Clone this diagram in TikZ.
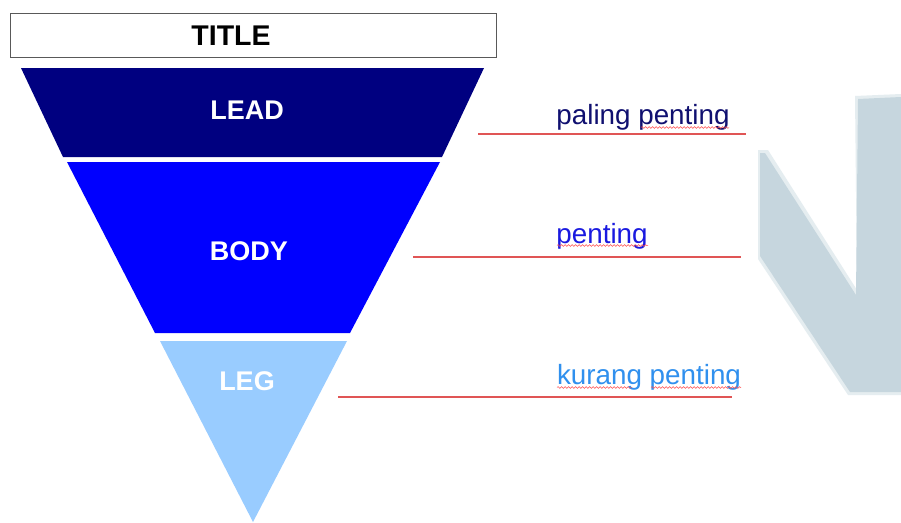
\documentclass[tikz,border=0pt]{standalone}
\usepackage{fontspec}
\setmainfont{Liberation Sans}
\usetikzlibrary{decorations.pathmorphing}
\definecolor{leadc}{HTML}{000080}
\definecolor{bodyc}{HTML}{0000FF}
\definecolor{legc}{HTML}{99CCFF}
\definecolor{redline}{HTML}{E05555}
\definecolor{markc}{HTML}{C6D6DE}
\definecolor{lbl1}{HTML}{101070}
\definecolor{lbl2}{HTML}{1A1AE0}
\definecolor{lbl3}{HTML}{3090EE}
\tikzset{
  tier/.style={font=\bfseries\fontsize{27}{30}\selectfont, text=white},
  side/.style={font=\fontsize{27.8}{31}\selectfont, anchor=base},
  rule/.style={draw=redline, line width=1.3pt},
  squiggle/.style={draw=red!70, line width=0.5pt,
    decorate, decoration={snake, amplitude=0.9pt, segment length=3.5pt}}
}
\begin{document}
\begin{tikzpicture}[x=1pt,y=-1pt]
\useasboundingbox (0,0) rectangle (901,522);
\fill[white] (0,0) rectangle (901,522);

% faint background mark with a soft rim
\fill[markc!45] (758,150) -- (768,150) -- (857,290) -- (855,96) -- (901,94)
  -- (901,395) -- (848,395) -- (758,259) -- cycle;
\fill[markc] (760,153) -- (765,153) -- (856,295) -- (858,99) -- (901,97)
  -- (901,392) -- (850,392) -- (760,256) -- cycle;

% title bar
\draw[draw=black!65, line width=1pt, fill=white] (10,13) rectangle (496,57);
\node[font=\bfseries\fontsize{28.5}{32}\selectfont] (title) at (231,36) {TITLE};

% inverted pyramid
\fill[leadc] (21,68) -- (484,68) -- (442,157) -- (63,157) -- cycle;
\fill[bodyc] (67,162) -- (440,162) -- (350,333) -- (155,333) -- cycle;
\fill[legc] (160,341) -- (347,341) -- (253,522) -- cycle;

\node[tier] (lead) at (247,110) {LEAD};
\node[tier] (body) at (249,251) {BODY};
\node[tier] (leg) at (247,381) {LEG};

% side labels
\node[side, text=lbl1] (p1) at (643,124) {paling penting};
\node[side, text=lbl2] (p2) at (602,243) {penting};
\node[side, text=lbl3] (p3) at (649,384) {kurang penting};

% spelling underlines
\draw[squiggle] (641,127.5) -- (729,127.5);
\draw[squiggle] (557,245.5) -- (648,245.5);
\draw[squiggle] (557,387.5) -- (632,387.5);
\draw[squiggle] (651,387.5) -- (741,387.5);

% guide rules
\coordinate (r1a) at (478,134); \coordinate (r1b) at (746,134);
\coordinate (r2a) at (413,257); \coordinate (r2b) at (741,257);
\coordinate (r3a) at (338,397); \coordinate (r3b) at (732,397);
\draw[rule] (r1a) -- (r1b);
\draw[rule] (r2a) -- (r2b);
\draw[rule] (r3a) -- (r3b);
\end{tikzpicture}
\end{document}
